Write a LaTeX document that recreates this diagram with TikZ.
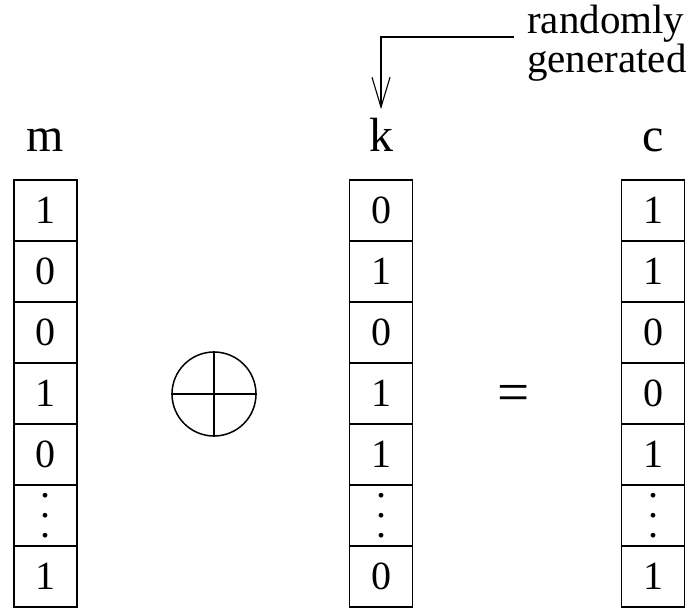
\documentclass[tikz,border=0pt]{standalone}
\usepackage{fontspec}
\setmainfont{Liberation Serif}
\usetikzlibrary{arrows.meta}

% three stacked dots for the elided bits
\newcommand\dotcol{\vbox{\baselineskip=20pt\lineskiplimit=0pt\hbox{.}\hbox{.}\hbox{.}}}

\tikzset{
  bitbox/.style={draw, line width=1.5pt, minimum width=63pt, minimum height=61pt,
    inner sep=0pt, font=\fontsize{40}{40}\selectfont},
  colname/.style={anchor=base, font=\fontsize{48}{48}\selectfont},
}

\begin{document}
\begin{tikzpicture}[x=1pt, y=-1pt]
\useasboundingbox (0,0) rectangle (693,608);

% message, key and cipher as columns of bits
\foreach \col/\x/\bits in {m/45.5/{1,0,0,1,0,\dotcol,1},
                           k/381/{0,1,0,1,1,\dotcol,0},
                           c/653/{1,1,0,0,1,\dotcol,1}} {
  \node[colname] (\col) at (\x,151) {\col};
  \foreach \b [count=\i] in \bits
    \node[bitbox] (\col\i) at (\x,149.5+61*\i) {\b};
}

% xor sign and equals
\node[circle, draw, line width=1.5pt, minimum size=84pt, inner sep=0pt] (xor) at (214,394) {};
\draw[line width=1.5pt] (xor.north) -- (xor.south) (xor.west) -- (xor.east);
\node[font=\fontsize{57}{57}\selectfont] (eq) at (514,398) {=};

% where the key comes from (base is the second line, 35pt below the first)
\node[align=left, anchor=base west, inner sep=13pt, font=\fontsize{41}{35}\selectfont]
  (note) at (514,72) {randomly\\generated};
\draw[line width=1.1pt, -{Straight Barb[length=30pt,width=18pt]}, shorten >=5pt]
  ([yshift=35pt]note.base west) -| (k.north);

\end{tikzpicture}
\end{document}
